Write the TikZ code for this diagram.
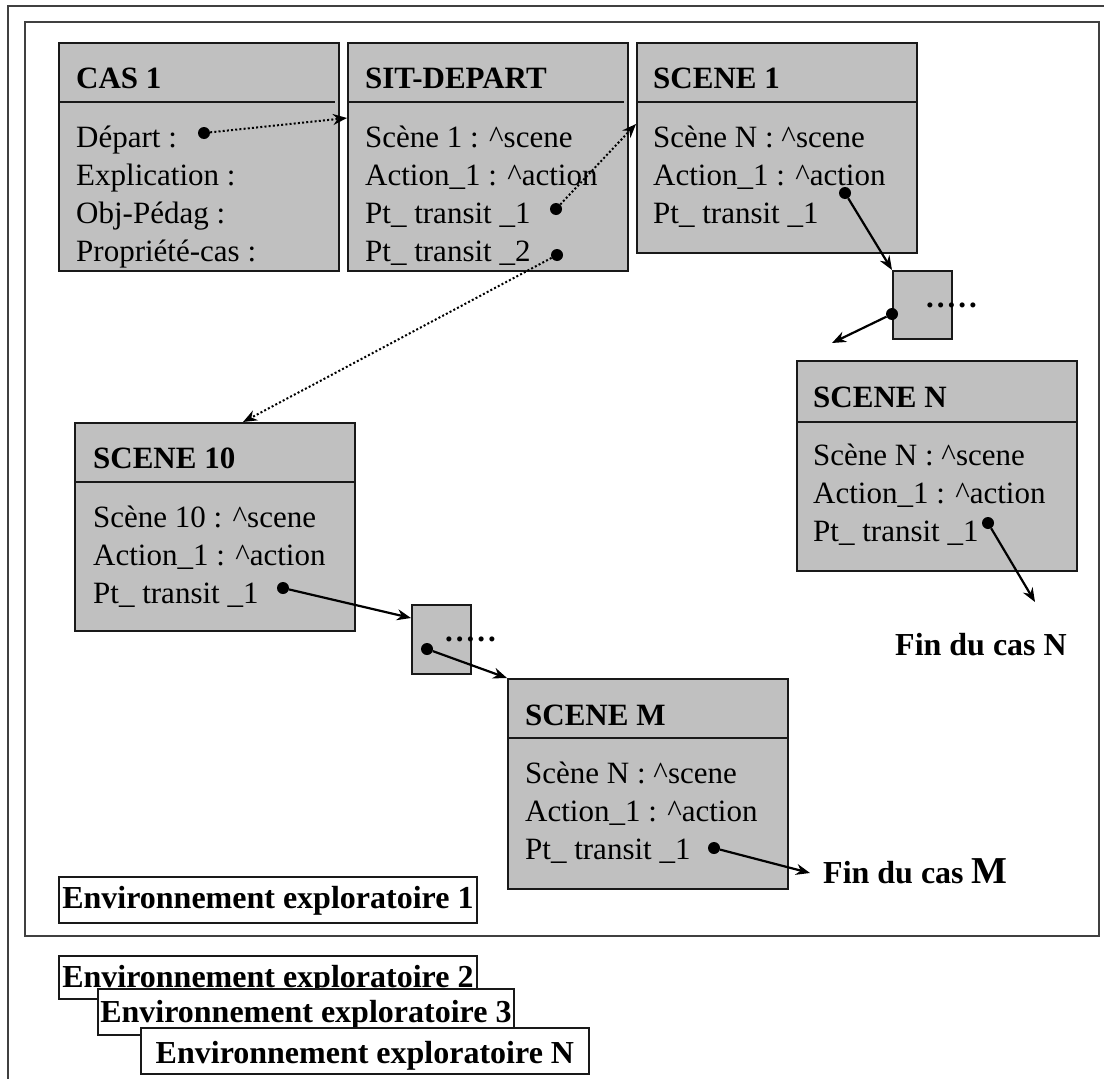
\documentclass[tikz,border=0pt]{standalone}
\usepackage{fontspec}
\setmainfont{Liberation Serif}
\usetikzlibrary{calc,positioning,arrows.meta}
\definecolor{boxgray}{RGB}{192,192,192}
\definecolor{framegray}{RGB}{64,64,64}
\tikzstyle{frame}    = [draw=framegray, line width=2.4pt]
\tikzstyle{scene}    = [rectangle, draw=black!90, line width=1.8pt, fill=boxgray, anchor=north west, minimum width=280pt, inner sep=0pt]
\tikzstyle{relay}    = [rectangle, draw=black!90, line width=1.8pt, fill=boxgray, anchor=north west, minimum width=59pt, inner sep=0pt]
\tikzstyle{hdr}      = [anchor=base west, inner sep=0pt, font=\fontsize{31}{38}\selectfont\bfseries]
\tikzstyle{attr}     = [anchor=base west, inner sep=0pt, font=\fontsize{31}{38}\selectfont]
\tikzstyle{sep}      = [draw=black!90, line width=1.8pt]
\tikzstyle{bullet}   = [circle, fill=black, inner sep=0pt, minimum size=12pt]
\tikzstyle{arrow}    = [line width=2.2pt, -{Stealth[length=14pt,width=11pt]}]
\tikzstyle{dotarrow} = [arrow, line width=2pt, dash pattern=on 2pt off 2.2pt]
\tikzstyle{envbox}   = [rectangle, draw=black!90, line width=1.8pt, fill=white, anchor=north west, inner xsep=0pt, inner ysep=0pt, font=\fontsize{32}{38}\selectfont\bfseries]
\tikzstyle{fin}      = [anchor=base west, inner sep=0pt, font=\fontsize{32}{38}\selectfont\bfseries]
\newcommand{\etc}{.\kern3pt.\kern3pt.\kern3pt.\kern3pt.}

\begin{document}
\begin{tikzpicture}[x=1pt,y=-1pt]
        \path[use as bounding box] (0,0) rectangle (1104,1079);
        \clip (0,0) rectangle (1104,1079);
        \fill[white] (0,0) rectangle (1104,1079);

        % cadres
        \draw[frame] (8,6) rectangle (1130,1110);
        \draw[frame] (25,22) rectangle (1099,936);

        % CAS 1
        \node[scene, minimum height=228pt] (cas) at (58,42) {};
        \node[hdr] (cas-t) at ($(cas.north west)+(18,46)$) {CAS 1};
        \draw[sep] ($(cas.north west)+(2,60)$) -- ($(cas.north east)+(-5,60)$);
        \foreach \txt [count=\i from 0] in {Départ :, Explication :, Obj-Pédag :, Propriété-cas :}
            \node[attr] (cas-\i) at ($(cas.north west)+(18,105+38*\i)$) {\txt};

        % SIT-DEPART
        \node[scene, minimum height=228pt] (sit) at (347,42) {};
        \node[hdr] (sit-t) at ($(sit.north west)+(18,46)$) {SIT-DEPART};
        \draw[sep] ($(sit.north west)+(2,60)$) -- ($(sit.north east)+(-5,60)$);
        \foreach \txt [count=\i from 0] in {Scène 1 : \textasciicircum scene, Action\_1 : \textasciicircum action, Pt\_ transit \_1, Pt\_ transit \_2}
            \node[attr] (sit-\i) at ($(sit.north west)+(18,105+38*\i)$) {\txt};

        % SCENE 1
        \node[scene, minimum height=210pt] (sc1) at (636,42) {};
        \node[hdr] (sc1-t) at ($(sc1.north west)+(17,46)$) {SCENE 1};
        \draw[sep] ($(sc1.north west)+(2,60)$) -- ($(sc1.north east)+(-2,60)$);
        \foreach \txt [count=\i from 0] in {Scène N : \textasciicircum scene, Action\_1 : \textasciicircum action, Pt\_ transit \_1}
            \node[attr] (sc1-\i) at ($(sc1.north west)+(17,105+38*\i)$) {\txt};

        % SCENE N
        \node[scene, minimum height=210pt] (scN) at (796,360) {};
        \node[hdr] (scN-t) at ($(scN.north west)+(17,47)$) {SCENE N};
        \draw[sep] ($(scN.north west)+(2,62)$) -- ($(scN.north east)+(-2,62)$);
        \foreach \txt [count=\i from 0] in {Scène N : \textasciicircum scene, Action\_1 : \textasciicircum action, Pt\_ transit \_1}
            \node[attr] (scN-\i) at ($(scN.north west)+(17,105+38*\i)$) {\txt};

        % SCENE 10
        \node[scene, minimum height=208pt] (sc10) at (74,422) {};
        \node[hdr] (sc10-t) at ($(sc10.north west)+(19,46)$) {SCENE 10};
        \draw[sep] ($(sc10.north west)+(2,60)$) -- ($(sc10.north east)+(-2,60)$);
        \foreach \txt [count=\i from 0] in {Scène 10 : \textasciicircum scene, Action\_1 : \textasciicircum action, Pt\_ transit \_1}
            \node[attr] (sc10-\i) at ($(sc10.north west)+(19,105+38*\i)$) {\txt};

        % SCENE M
        \node[scene, minimum height=210pt] (scM) at (507,678) {};
        \node[hdr] (scM-t) at ($(scM.north west)+(18,47)$) {SCENE M};
        \draw[sep] ($(scM.north west)+(2,60)$) -- ($(scM.north east)+(-2,60)$);
        \foreach \txt [count=\i from 0] in {Scène N : \textasciicircum scene, Action\_1 : \textasciicircum action, Pt\_ transit \_1}
            \node[attr] (scM-\i) at ($(scM.north west)+(18,105+38*\i)$) {\txt};

        % relais
        \node[relay, minimum height=68pt] (rA) at (892,270) {};
        \node[hdr, anchor=base west] (rA-etc) at (926,307) {\etc};
        \node[relay, minimum height=69pt] (rB) at (411,604) {};
        \node[hdr, anchor=base west] (rB-etc) at (445,641) {\etc};

        % points
        \node[bullet] (cas-dep) at (204,133) {};
        \node[bullet] (sit-p1) at (556,209) {};
        \node[bullet] (sit-p2) at (557,255) {};
        \node[bullet] (sc1-p1) at (845,193) {};
        \node[bullet] (rA-p) at (892,314) {};
        \node[bullet] (scN-p1) at (988,523) {};
        \node[bullet] (sc10-p1) at (283,588) {};
        \node[bullet] (rB-p) at (427,649) {};
        \node[bullet] (scM-p1) at (714,848) {};

        \coordinate (sit-in) at ($(sit.north west)+(0,76)$);
        \coordinate (sc1-in) at ($(sc1.north west)+(0,82)$);
        \coordinate (sc10-in) at ($(sc10.north west)+(169,0)$);
        \coordinate (rB-in) at ($(rB.north west)+(0,14)$);
        \coordinate (scN-in) at (832,343);
        \coordinate (finN-in) at (1035,602);
        \coordinate (finM-in) at (810,873);

        \draw[dotarrow] (cas-dep) -- (sit-in);
        \draw[dotarrow] (sit-p1) -- (sc1-in);
        \draw[dotarrow] (sit-p2) -- (sc10-in);
        \draw[arrow] (sc1-p1) -- (rA.north west);
        \draw[arrow] (rA-p) -- (scN-in);
        \draw[arrow] (scN-p1) -- (finN-in);
        \draw[arrow] (sc10-p1) -- (rB-in);
        \draw[arrow] (rB-p) -- (scM.north west);
        \draw[arrow] (scM-p1) -- (finM-in);

        \node[fin] (finN) at (895,655) {Fin du cas N};
        \node[fin] (finM) at (823,883) {Fin du cas {\fontsize{38}{40}\selectfont M}};

        % environnements
        \node[envbox, minimum width=418pt, text height=32pt, text depth=14pt] (env1) at (58,876) {Environnement exploratoire 1};
        \node[envbox, minimum width=418pt, text height=32pt, text depth=11pt] (env2) at (58,955) {Environnement exploratoire 2};
        \node[envbox, minimum width=416pt, text height=34pt, text depth=12pt] (env3) at (97,988) {Environnement exploratoire 3};
        \node[envbox, minimum width=448pt, text height=36pt, text depth=10pt] (envN) at (140,1027) {Environnement exploratoire N};
\end{tikzpicture}
\end{document}
